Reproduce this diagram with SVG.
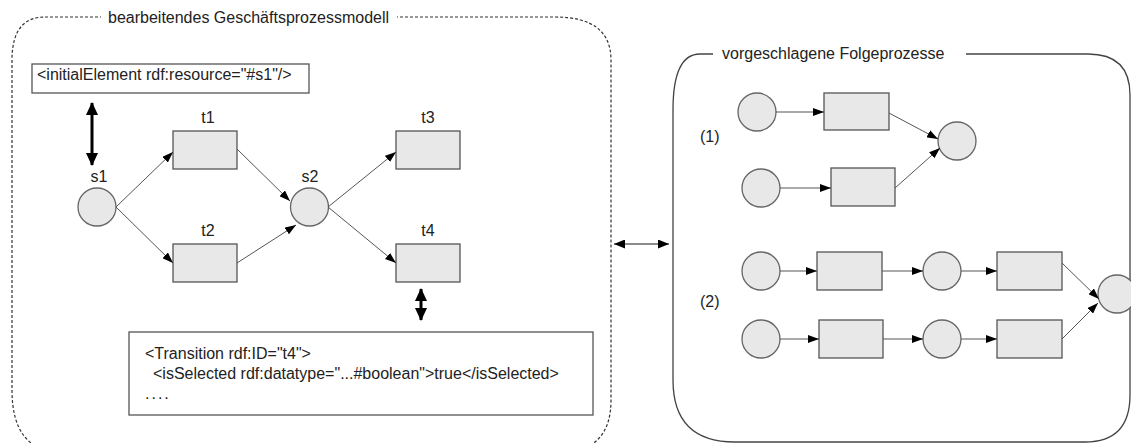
<svg xmlns="http://www.w3.org/2000/svg" width="1131" height="443" viewBox="0 0 1131 443">
<style>
text{font-family:"Liberation Sans",Arial,sans-serif;font-size:16px;fill:#222}
.lbl{text-anchor:middle}
.place{fill:#e8e8e8;stroke:#666;stroke-width:1.3}
.trans{fill:#e8e8e8;stroke:#555;stroke-width:1.3}
.box{fill:#fff;stroke:#555;stroke-width:1.3}
.arc{stroke:#555;stroke-width:1;fill:none;marker-end:url(#ah)}
.thick{stroke:#000;stroke-width:3;fill:none;marker-start:url(#bh);marker-end:url(#bh)}
</style>
<defs>
<marker id="ah" viewBox="0 0 11 8" refX="11" refY="4" markerWidth="11" markerHeight="8" markerUnits="userSpaceOnUse" orient="auto"><path d="M0,0 L11,4 L0,8 z" fill="#000"/></marker>
<marker id="bh" viewBox="0 0 13 12" refX="12" refY="6" markerWidth="13" markerHeight="12" markerUnits="userSpaceOnUse" orient="auto-start-reverse"><path d="M0,0 L13,6 L0,12 z" fill="#000"/></marker>
<marker id="mh" viewBox="0 0 11 9" refX="11" refY="4.5" markerWidth="11" markerHeight="9" markerUnits="userSpaceOnUse" orient="auto-start-reverse"><path d="M0,0 L11,4.5 L0,9 z" fill="#000"/></marker>
</defs>
<rect width="1131" height="443" fill="#fff"/>

<g id="panel-left">
<path d="M45,17 L555,17 Q611,17 611,60 L611,400 Q611,452 560,452 L62,452 Q12,452 12,390 L12,60 Q12,17 45,17 Z" fill="none" stroke="#333" stroke-width="1.2" stroke-dasharray="3,2"/>
<rect x="101" y="8" width="296" height="20" fill="#fff"/>
<text x="108" y="23">bearbeitendes Geschäftsprozessmodell</text>
</g>

<g id="panel-right">
<path d="M700,54 L1088,54 Q1130,54 1130,95 L1130,395 Q1130,442 1085,442 L735,442 Q673,442 673,380 L673,110 Q673,54 700,54 Z" fill="none" stroke="#444" stroke-width="1.3"/>
<rect x="713" y="44" width="253" height="20" fill="#fff"/>
<text x="722" y="59">vorgeschlagene Folgeprozesse</text>
</g>

<g id="initialElement">
<rect class="box" x="32" y="64" width="277" height="29"/>
<text x="37" y="80">&lt;initialElement rdf:resource="#s1"/&gt;</text>
</g>

<g id="s1"><circle class="place" cx="97" cy="207" r="19"/><text class="lbl" x="99" y="182">s1</text></g>
<g id="t1"><rect class="trans" x="173" y="131" width="64" height="38"/><text class="lbl" x="208" y="123">t1</text></g>
<g id="t2"><rect class="trans" x="173" y="244" width="64" height="38"/><text class="lbl" x="208" y="236">t2</text></g>
<g id="s2"><circle class="place" cx="309.5" cy="207" r="19"/><text class="lbl" x="310" y="182">s2</text></g>
<g id="t3"><rect class="trans" x="396" y="131" width="64" height="38"/><text class="lbl" x="428" y="123">t3</text></g>
<g id="t4"><rect class="trans" x="396" y="244" width="64" height="38"/><text class="lbl" x="428" y="236">t4</text></g>

<g id="transition-box">
<rect class="box" x="129" y="332" width="464" height="83"/>
<text x="145" y="359">&lt;Transition rdf:ID="t4"&gt;</text>
<text x="153" y="379">&lt;isSelected rdf:datatype="...#boolean"&gt;true&lt;/isSelected&gt;</text>
<text x="145" y="399" style="letter-spacing:2px">....</text>
</g>

<g id="p1a"><circle class="place" cx="757" cy="112" r="19"/></g>
<g id="p1b"><rect class="trans" x="824" y="93" width="65" height="37"/></g>
<g id="p1c"><circle class="place" cx="957" cy="141" r="19"/></g>
<g id="p1d"><circle class="place" cx="761" cy="188" r="19"/></g>
<g id="p1e"><rect class="trans" x="831" y="168" width="64" height="38"/></g>
<g id="label1"><text x="700" y="142">(1)</text></g>

<g id="p2a1"><circle class="place" cx="761" cy="271" r="19"/></g>
<g id="p2b1"><rect class="trans" x="817" y="252" width="65" height="38"/></g>
<g id="p2c1"><circle class="place" cx="942" cy="271" r="19"/></g>
<g id="p2d1"><rect class="trans" x="997" y="252" width="65" height="38"/></g>
<g id="p2a2"><circle class="place" cx="761" cy="339" r="19"/></g>
<g id="p2b2"><rect class="trans" x="819" y="320" width="64" height="38"/></g>
<g id="p2c2"><circle class="place" cx="942" cy="339" r="19"/></g>
<g id="p2d2"><rect class="trans" x="997" y="320" width="65" height="38"/></g>
<g id="p2e"><circle class="place" cx="1117" cy="294" r="19"/></g>
<g id="label2"><text x="700" y="307">(2)</text></g>

<g id="connectors">
<line class="thick" x1="92" y1="103" x2="92" y2="165"/>
<line class="thick" x1="421" y1="289" x2="421" y2="320"/>
<line x1="614" y1="244" x2="669" y2="244" stroke="#666" stroke-width="1.5" marker-start="url(#mh)" marker-end="url(#mh)"/>
<line class="arc" x1="116" y1="207" x2="173" y2="152"/>
<line class="arc" x1="116" y1="207" x2="173" y2="263"/>
<line class="arc" x1="237" y1="149" x2="290" y2="201"/>
<line class="arc" x1="237" y1="263" x2="296" y2="225"/>
<line class="arc" x1="328" y1="207" x2="396" y2="152"/>
<line class="arc" x1="328" y1="207" x2="396" y2="263"/>
<line class="arc" x1="776" y1="112" x2="824" y2="112"/>
<line class="arc" x1="780" y1="188" x2="831" y2="188"/>
<line class="arc" x1="889" y1="113" x2="938" y2="139"/>
<line class="arc" x1="895" y1="188" x2="940" y2="148"/>
<line class="arc" x1="780" y1="271" x2="817" y2="271"/>
<line class="arc" x1="882" y1="271" x2="923" y2="271"/>
<line class="arc" x1="961" y1="271" x2="997" y2="271"/>
<line class="arc" x1="780" y1="339" x2="819" y2="339"/>
<line class="arc" x1="883" y1="339" x2="923" y2="339"/>
<line class="arc" x1="961" y1="339" x2="997" y2="339"/>
<line class="arc" x1="1062" y1="263" x2="1099" y2="299"/>
<line class="arc" x1="1062" y1="339" x2="1098" y2="303"/>
</g>
</svg>
